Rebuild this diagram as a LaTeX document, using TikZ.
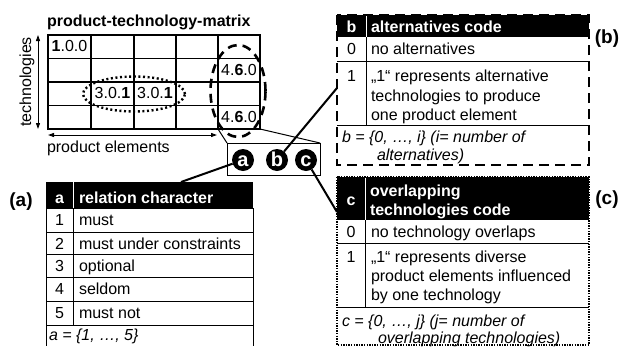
\documentclass[tikz,border=0pt]{standalone}
\usepackage{fontspec}
\setmainfont{Liberation Sans}
\usetikzlibrary{arrows.meta}
\begin{document}
\begin{tikzpicture}[x=1pt,y=-1pt,
  every node/.style={inner sep=0pt,outer sep=0pt,text height=12pt,text depth=2pt,
    font=\fontsize{16}{19.5}\selectfont},
  lt/.style={anchor=west},
  bt/.style={font=\fontsize{16}{19.5}\selectfont\bfseries},
  ht/.style={text=white,font=\fontsize{16}{19.5}\selectfont\bfseries},
  it/.style={anchor=west,font=\fontsize{16}{19.5}\selectfont\itshape},
  lbl/.style={font=\fontsize{19}{22}\selectfont\bfseries},
  gridline/.style={line width=1.2pt},
  tabline/.style={line width=1pt},
  dbl/.style={line width=1pt,{Triangle[length=6pt,width=4pt]}-{Triangle[length=6pt,width=4pt]}},
  dotring/.style={line width=2.4pt,dash pattern=on 2pt off 2.6pt},
  dashring/.style={line width=2.6pt,dash pattern=on 9pt off 6pt},
  framedash/.style={line width=2.8pt,dash pattern=on 10pt off 6pt},
  framedot/.style={line width=2.6pt,dash pattern=on 1.4pt off 1.2pt},
  conn/.style={line width=2pt},
  badge/.style={circle,fill=black,minimum size=22pt,text=white,
    text height=13pt,text depth=0pt,
    font=\fontsize{20}{22}\selectfont\bfseries}]
\useasboundingbox (0,0) rectangle (627,346);

% ---------- product-technology matrix ----------
\node[lt,bt] (title) at (47,21) {product-technology-matrix};
\draw[gridline] (48,35) rectangle (260,129);
\foreach \cx in {91,134,176,218} \draw[gridline] (\cx,35) -- (\cx,129);
\foreach \ry in {58.5,82,105.5} \draw[gridline] (48,\ry) -- (260,\ry);

\node (c11) at (69.5,46.5) {\textbf{1}.0.0};
\node (c32) at (112.5,93.5) {3.0.\textbf{1}};
\node (c33) at (155,93.5) {3.0.\textbf{1}};
\node (c25) at (239,70) {4.\textbf{6}.0};
\node (c45) at (239,117) {4.\textbf{6}.0};

\draw[dotring] (134,94) ellipse [x radius=51pt,y radius=17.5pt];
\draw[dashring] (238,91) ellipse [x radius=27.5pt,y radius=46pt];

\coordinate (tTop) at (38,35);
\coordinate (tBot) at (38,129);
\draw[dbl] (tTop) -- (tBot);
\node[rotate=90] (tech) at (26,82) {technologies};
\coordinate (pLeft) at (48,135);
\coordinate (pRight) at (217,135);
\draw[dbl] (pLeft) -- (pRight);
\node[lt] (prod) at (47,147) {product elements};

% ---------- code badges ----------
\coordinate (zl) at (218,129);
\coordinate (zr) at (260,129);
\node[draw,line width=1pt,minimum width=93pt,minimum height=32pt] (zbox) at (273.5,159) {};
\draw[tabline] (zl) -- (zbox.north west);
\draw[tabline] (zr) -- (zbox.north east);
\node[badge] (ca) at (243,160) {a};
\node[badge] (cb) at (277,160) {b};
\node[badge] (cc) at (306,160) {c};

\coordinate (aIn) at (181,182);
\coordinate (bIn) at (337,88);
\coordinate (cIn) at (337,212);
\draw[conn] (ca) -- (aIn);
\draw[conn] (cb) -- (bIn);
\draw[conn] (cc) -- (cIn);

% ---------- table (a) ----------
\fill (46,182) rectangle (253,208);
\draw[white,line width=0.8pt] (73,182) -- (73,208);
\draw[tabline] (46,208) -- (46,346);
\draw[tabline] (253,208) -- (253,346);
\foreach \ry in {208,232,254,277,301,325} \draw[tabline] (46,\ry) -- (253,\ry);
\draw[tabline] (73,208) -- (73,325);
\node[ht] (ah) at (59.5,198) {a};
\node[ht,lt] (aht) at (79,198) {relation character};
\node (a1) at (59.5,220) {1};  \node[lt] (a1t) at (79,220) {must};
\node (a2) at (59.5,244) {2};  \node[lt] (a2t) at (79,244) {must under constraints};
\node (a3) at (59.5,266) {3};  \node[lt] (a3t) at (79,266) {optional};
\node (a4) at (59.5,289) {4};  \node[lt] (a4t) at (79,289) {seldom};
\node (a5) at (59.5,313) {5};  \node[lt] (a5t) at (79,313) {must not};
\node[it] (af) at (49,335) {a = \{1, …, 5\}};
\node[lbl] (la) at (21,201) {(a)};

% ---------- table (b) ----------
\fill (337,15) rectangle (589,37);
\draw[white,line width=0.8pt] (366,15) -- (366,37);
\draw[tabline] (337,61) -- (589,61);
\draw[tabline] (337,125) -- (589,125);
\draw[tabline] (366,37) -- (366,125);
\node[ht] (bh) at (351.5,27) {b};
\node[ht,lt] (bht) at (371,27) {alternatives code};
\node (b0) at (351.5,49) {0};  \node[lt] (b0t) at (371,49) {no alternatives};
\node (b1) at (351.5,76) {1};
\node[lt] (b1t) at (371,76) {„1“ represents alternative};
\node[lt] (b1u) at (371,96) {technologies to produce};
\node[lt] (b1v) at (371,115) {one product element};
\node[it] (bf) at (342,137) {b = \{0, …, i\} (i= number of};
\node[it] (bg) at (377,155) {alternatives)};
\draw[framedash] (337,15) rectangle (589,165);
\node[lbl] (lb) at (607,38) {(b)};

% ---------- table (c) ----------
\fill (337,177) rectangle (589,220);
\draw[white,line width=0.8pt] (365,177) -- (365,220);
\draw[tabline] (337,243) -- (589,243);
\draw[tabline] (337,307) -- (589,307);
\draw[tabline] (365,220) -- (365,307);
\node[ht] (ch) at (351,200) {c};
\node[ht,lt] (cht) at (370,191) {overlapping};
\node[ht,lt] (chu) at (370,210) {technologies code};
\node (c0) at (351,232) {0};  \node[lt] (c0t) at (371,232) {no technology overlaps};
\node (c1) at (351,257) {1};
\node[lt] (c1t) at (371,257) {„1“ represents diverse};
\node[lt] (c1u) at (371,276) {product elements influenced};
\node[lt] (c1v) at (371,295) {by one technology};
\node[it] (cf) at (342,321) {c = \{0, …, j\} (j= number of};
\node[it] (cg) at (378,338) {overlapping technologies)};
\draw[framedot] (337,177) rectangle (589,345);
\node[lbl] (lc) at (607,199) {(c)};
\end{tikzpicture}
\end{document}
